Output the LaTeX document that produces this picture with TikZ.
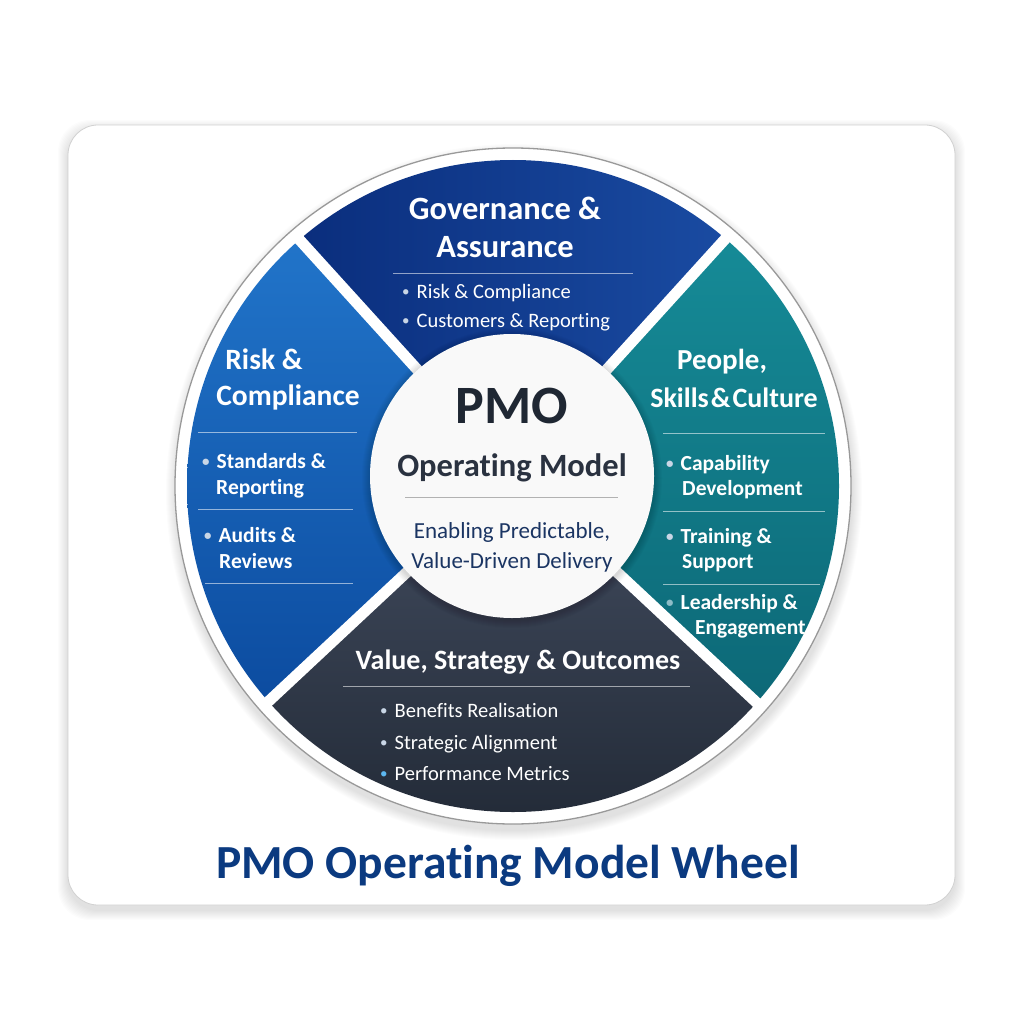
\documentclass[tikz,border=0pt]{standalone}
\usepackage{fontspec}
\setmainfont{Carlito}[Ligatures=NoCommon]
\usetikzlibrary{calc}
\definecolor{topA}{HTML}{0A2D7C}
\definecolor{topB}{HTML}{1A4CA3}
\definecolor{leftA}{HTML}{2276CB}
\definecolor{leftB}{HTML}{0B4A9E}
\definecolor{rightA}{HTML}{168C98}
\definecolor{rightB}{HTML}{0C6776}
\definecolor{botA}{HTML}{434D60}
\definecolor{botB}{HTML}{232B38}
\definecolor{hubfill}{HTML}{F9F9F9}
\definecolor{hubdark}{HTML}{1F2733}
\definecolor{hubmid}{HTML}{2A3240}
\definecolor{hubsub}{HTML}{1B3563}
\definecolor{titleblue}{HTML}{0B3A80}
\definecolor{bul}{HTML}{C9D6E6}
\definecolor{bulblue}{HTML}{5DB7F0}
\tikzset{
  segtitle/.style={text=white, font=\bfseries\fontsize{31}{33}\selectfont, anchor=base, inner sep=0pt},
  segitem/.style={text=white, font=\fontsize{20.5}{24}\selectfont, anchor=base west, inner sep=0pt},
  sideitem/.style={text=white, font=\bfseries\fontsize{21.5}{24}\selectfont, anchor=base west, inner sep=0pt},
  divider/.style={white, opacity=0.55, line width=0.9pt},
  sepline/.style={white, line width=11pt},
  hubtext/.style={anchor=base, inner sep=0pt}
}
\newcommand{\bulletmark}[1][bul]{\textcolor{#1}{\fontsize{15}{15}\selectfont\raisebox{1.5pt}{•}}\hspace{7pt}}
\begin{document}
\begin{tikzpicture}[x=1pt,y=-1pt]
\useasboundingbox (0,0) rectangle (1024,1024);
\fill[white] (0,0) rectangle (1024,1024);
% card shadow
\foreach \i in {1,...,10}{
  \fill[black, opacity=0.010, rounded corners=32pt] (68-\i,125-\i+5) rectangle (955+\i,905+\i+5);
}
\fill[white, draw=black!18, line width=0.8pt, rounded corners=30pt] (68,125) rectangle (955,905);
% wheel
\coordinate (C) at (513,486);
\coordinate (X) at (512,474);
\coordinate (sNW) at ($(X)+2.2*(-215,-237)$);
\coordinate (sNE) at ($(X)+2.2*(215,-237)$);
\coordinate (sSW) at ($(X)+2.2*(-242,226)$);
\coordinate (sSE) at ($(X)+2.2*(245,229)$);
\foreach \i in {1,...,10}{
  \fill[black, opacity=0.012] (514,492) circle (338+\i);
}
\fill[white] (C) circle (338);
\draw[black!40, line width=1.3pt] (C) circle (338);
\begin{scope}
  \clip (C) circle (326);
  \begin{scope}
    \clip (X) -- (sNW) -- (sNE) -- cycle;
    \shade[left color=topA, right color=topB] (290,150) rectangle (740,480);
  \end{scope}
  \begin{scope}
    \clip (X) -- (sNW) -- (sSW) -- cycle;
    \shade[top color=leftA, bottom color=leftB] (180,220) rectangle (515,720);
  \end{scope}
  \begin{scope}
    \clip (X) -- (sNE) -- (sSE) -- cycle;
    \shade[top color=rightA, bottom color=rightB] (510,220) rectangle (845,720);
  \end{scope}
  \begin{scope}
    \clip (X) -- (sSW) -- (sSE) -- cycle;
    \shade[top color=botA, bottom color=botB] (260,470) rectangle (770,820);
  \end{scope}
\end{scope}
% separators
\begin{scope}
  \clip (C) circle (334);
  \draw[sepline] (X) -- (sNW);
  \draw[sepline] (X) -- (sNE);
  \draw[sepline] (X) -- (sSW);
  \draw[sepline] (X) -- (sSE);
\end{scope}
% hub
\foreach \i in {1,...,8}{
  \fill[black, opacity=0.02] (512,478) circle (142+\i);
}
\node[circle, fill=hubfill, minimum size=284pt, inner sep=0pt] (hub) at (512,476) {};
\node[hubtext, text=hubdark, font=\bfseries\fontsize{54}{56}\selectfont] (pmo) at (512,423) {PMO};
\node[hubtext, text=hubmid, font=\bfseries\fontsize{32.5}{36}\selectfont] (opm) at (512,476) {Operating Model};
\draw[black!30, line width=0.9pt] (405,497) -- (618,497);
\node[hubtext, text=hubsub, font=\fontsize{23}{26}\selectfont] (sub1) at (512,538) {Enabling Predictable,};
\node[hubtext, text=hubsub, font=\fontsize{23}{26}\selectfont] (sub2) at (512,568) {Value-Driven Delivery};
% top segment
\node[segtitle, font=\bfseries\fontsize{32.5}{34}\selectfont] (govA) at (505,220) {Governance \&};
\node[segtitle, font=\bfseries\fontsize{32.5}{34}\selectfont] (govB) at (505,258) {Assurance};
\draw[divider] (393,273) -- (633,273);
\node[segitem] (gov1) at (402,298) {\bulletmark Risk \& Compliance};
\node[segitem] (gov2) at (402,327) {\bulletmark Customers \& Reporting};
% left segment
\node[segtitle, font=\bfseries\fontsize{29.5}{32}\selectfont] (riskA) at (264,369) {Risk \&};
\node[segtitle, font=\bfseries\fontsize{29.5}{32}\selectfont] (riskB) at (288,405) {Compliance};
\draw[divider] (198,432) -- (357,432);
\node[sideitem] (risk1) at (202,468) {\bulletmark Standards \&};
\node[sideitem] (risk1b) at (216,494) {Reporting};
\draw[divider] (198,509) -- (353,509);
\node[sideitem] (risk2) at (204,542) {\bulletmark Audits \&};
\node[sideitem] (risk2b) at (219,568) {Reviews};
\draw[divider] (205,583) -- (353,583);
% right segment
\node[segtitle, font=\bfseries\fontsize{29}{32}\selectfont] (pplA) at (722,369) {People,};
\node[segtitle, font=\bfseries\fontsize{28}{32}\selectfont] (pplB) at (734,407) {Skills\hspace{2pt}\&\hspace{2pt}Culture};
\draw[divider] (663,433) -- (825,433);
\node[sideitem] (ppl1) at (666,470) {\bulletmark Capability};
\node[sideitem] (ppl1b) at (682,495) {Development};
\draw[divider] (663,511) -- (825,511);
\node[sideitem] (ppl2) at (666,543) {\bulletmark Training \&};
\node[sideitem] (ppl2b) at (682,568) {Support};
\draw[divider] (663,584) -- (820,584);
\node[sideitem] (ppl3) at (666,609) {\bulletmark[bul!70!teal]Leadership \&};
\node[sideitem] (ppl3b) at (695,634) {Engagement};
% bottom segment
\node[segtitle, font=\bfseries\fontsize{28}{30}\selectfont] (valT) at (518,669) {Value, Strategy \& Outcomes};
\draw[divider] (343,686) -- (690,686);
\node[segitem] (val1) at (380,717) {\bulletmark Benefits Realisation};
\node[segitem] (val2) at (380,749) {\bulletmark Strategic Alignment};
\node[segitem] (val3) at (380,780) {\bulletmark[bulblue]Performance Metrics};
% title
\node[anchor=base, inner sep=0pt, text=titleblue, font=\bfseries\fontsize{47.5}{50}\selectfont] (title) at (508,878) {PMO Operating Model Wheel};
\end{tikzpicture}
\end{document}
